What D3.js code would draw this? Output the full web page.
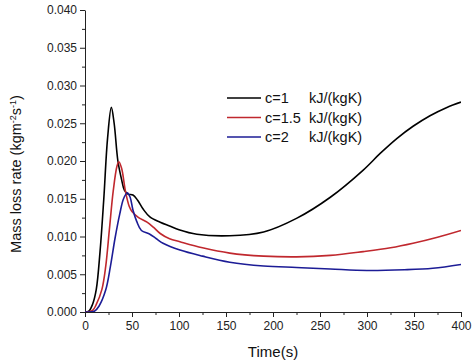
<!DOCTYPE html>
<html>
<head>
<meta charset="utf-8">
<script src="https://cdn.jsdelivr.net/npm/d3@7"></script>
<style>
  body { margin: 0; background: #fff; }
  svg { font-family: "Liberation Sans", Arial, sans-serif; }
</style>
</head>
<body>
<svg id="chart" width="474" height="362"></svg>
<script>
// data (time in s, mass loss rate in kg m^-2 s^-1)
const seriesNames = ["c=1", "c=1.5", "c=2"];
const seriesColors = ["#000000", "#c0282e", "#1c1c96"];

const timeC1 = [0, 4, 8, 12, 16, 20, 24, 28, 31, 35, 39, 42, 46, 51, 56, 62, 69, 80, 90, 100, 119, 154, 190, 225, 261, 296, 314, 332, 349, 367, 385, 400];
const rateC1 = [0, 0.0001, 0.001, 0.003, 0.008, 0.015, 0.023, 0.0271, 0.025, 0.020, 0.0175, 0.0161, 0.0156, 0.0155, 0.0148, 0.0136, 0.0126, 0.0119, 0.0114, 0.0109, 0.0103, 0.0101, 0.0106, 0.0124, 0.0152, 0.0188, 0.0210, 0.0230, 0.0246, 0.0260, 0.0271, 0.0278];

const timeC15 = [0, 8, 12, 18, 22, 26, 30, 34, 36, 39, 43, 47, 50, 57, 66, 73, 80, 90, 101, 125, 154, 190, 225, 261, 296, 325, 349, 375, 400];
const rateC15 = [0, 0.0002, 0.001, 0.003, 0.006, 0.011, 0.016, 0.0193, 0.0199, 0.019, 0.016, 0.014, 0.0133, 0.0125, 0.0119, 0.0112, 0.0104, 0.0097, 0.0093, 0.0085, 0.0078, 0.0074, 0.0073, 0.0075, 0.0080, 0.0085, 0.0091, 0.0099, 0.0108];

const timeC2 = [0, 10, 15, 22, 27, 32, 37, 41, 45, 48, 51, 55, 60, 69, 76, 83, 101, 125, 154, 190, 225, 261, 300, 340, 370, 400];
const rateC2 = [0, 0.0001, 0.0008, 0.0029, 0.006, 0.0098, 0.013, 0.015, 0.0158, 0.0152, 0.0135, 0.012, 0.0108, 0.0103, 0.0097, 0.0091, 0.0082, 0.0074, 0.0066, 0.0061, 0.0059, 0.0057, 0.0055, 0.0056, 0.0058, 0.0063];

const xTicks = [0, 50, 100, 150, 200, 250, 300, 350, 400];
const yTicks = [0, 0.005, 0.010, 0.015, 0.020, 0.025, 0.030, 0.035, 0.040];

const svg = d3.select("#chart");
const margin = {left: 85, right: 13, top: 10, bottom: 50};
const width = 474 - margin.left - margin.right;
const height = 362 - margin.top - margin.bottom;

const g = svg.append("g").attr("transform", "translate(" + margin.left + "," + margin.top + ")");

const x = d3.scaleLinear().domain([0, 400]).range([0, width]);
const y = d3.scaleLinear().domain([0, 0.040]).range([height, 0]);

// minor ticks first
g.append("g")
  .attr("transform", "translate(0," + height + ")")
  .call(d3.axisBottom(x).tickValues(d3.range(25, 400, 50)).tickSize(3).tickFormat(""))
  .call(a => a.select(".domain").remove());
g.append("g")
  .call(d3.axisLeft(y).tickValues(d3.range(0.0025, 0.040, 0.005)).tickSize(3).tickFormat(""))
  .call(a => a.select(".domain").remove());

// main axes
const xAxis = g.append("g")
  .attr("transform", "translate(0," + height + ")")
  .call(d3.axisBottom(x).tickValues(xTicks).tickSize(5).tickSizeOuter(0).tickPadding(4).tickFormat(d3.format("d")));
const yAxis = g.append("g")
  .call(d3.axisLeft(y).tickValues(yTicks).tickSize(5).tickSizeOuter(0).tickPadding(3).tickFormat(d3.format(".3f")));

[xAxis, yAxis].forEach(a => {
  a.selectAll("text").style("font-size", "12px").style("fill", "#222");
  a.selectAll("line, path").style("stroke", "#222");
});

svg.selectAll(".tick line").style("stroke", "#222");

// curves (clip so the spline can't dip under the axis)
g.append("clipPath").attr("id", "plotclip")
  .append("rect").attr("x", 0).attr("y", -5).attr("width", width).attr("height", height + 5);

const line = d3.line()
  .x(d => x(d[0]))
  .y(d => y(d[1]))
  .curve(d3.curveCatmullRom.alpha(0.5));

const series = [
  d3.zip(timeC1, rateC1),
  d3.zip(timeC15, rateC15),
  d3.zip(timeC2, rateC2)
];

g.append("g").attr("clip-path", "url(#plotclip)")
  .selectAll(".curve")
  .data(series)
  .enter()
  .append("path")
    .attr("class", "curve")
    .attr("d", line)
    .style("fill", "none")
    .style("stroke", (d, i) => seriesColors[i])
    .style("stroke-width", 1.6);

// legend
const legend = svg.append("g").attr("transform", "translate(227,98)");
seriesNames.forEach((name, i) => {
  const row = legend.append("g").attr("transform", "translate(0," + (i * 19.5) + ")");
  row.append("line")
    .attr("x1", 0).attr("x2", 34)
    .style("stroke", seriesColors[i])
    .style("stroke-width", 1.6);
  row.append("text")
    .attr("x", 38).attr("y", 5)
    .style("font-size", "14.5px")
    .style("fill", "#111")
    .text(name);
  row.append("text")
    .attr("x", 82).attr("y", 5)
    .style("font-size", "14.5px")
    .style("fill", "#111")
    .text("kJ/(kgK)");
});

// axis titles
svg.append("text")
  .attr("x", margin.left + width / 2)
  .attr("y", 357)
  .attr("text-anchor", "middle")
  .style("font-size", "15px")
  .style("fill", "#111")
  .text("Time(s)");

const yt = svg.append("text")
  .attr("transform", "translate(21,174) rotate(-90)")
  .attr("text-anchor", "middle")
  .style("font-size", "14.5px")
  .style("fill", "#111");
yt.append("tspan").text("Mass loss rate (kgm");
yt.append("tspan").attr("dy", -5).style("font-size", "9px").text("-2");
yt.append("tspan").attr("dy", 5).text("s");
yt.append("tspan").attr("dy", -5).style("font-size", "9px").text("-1");
yt.append("tspan").attr("dy", 5).text(")");
</script>
</body>
</html>
